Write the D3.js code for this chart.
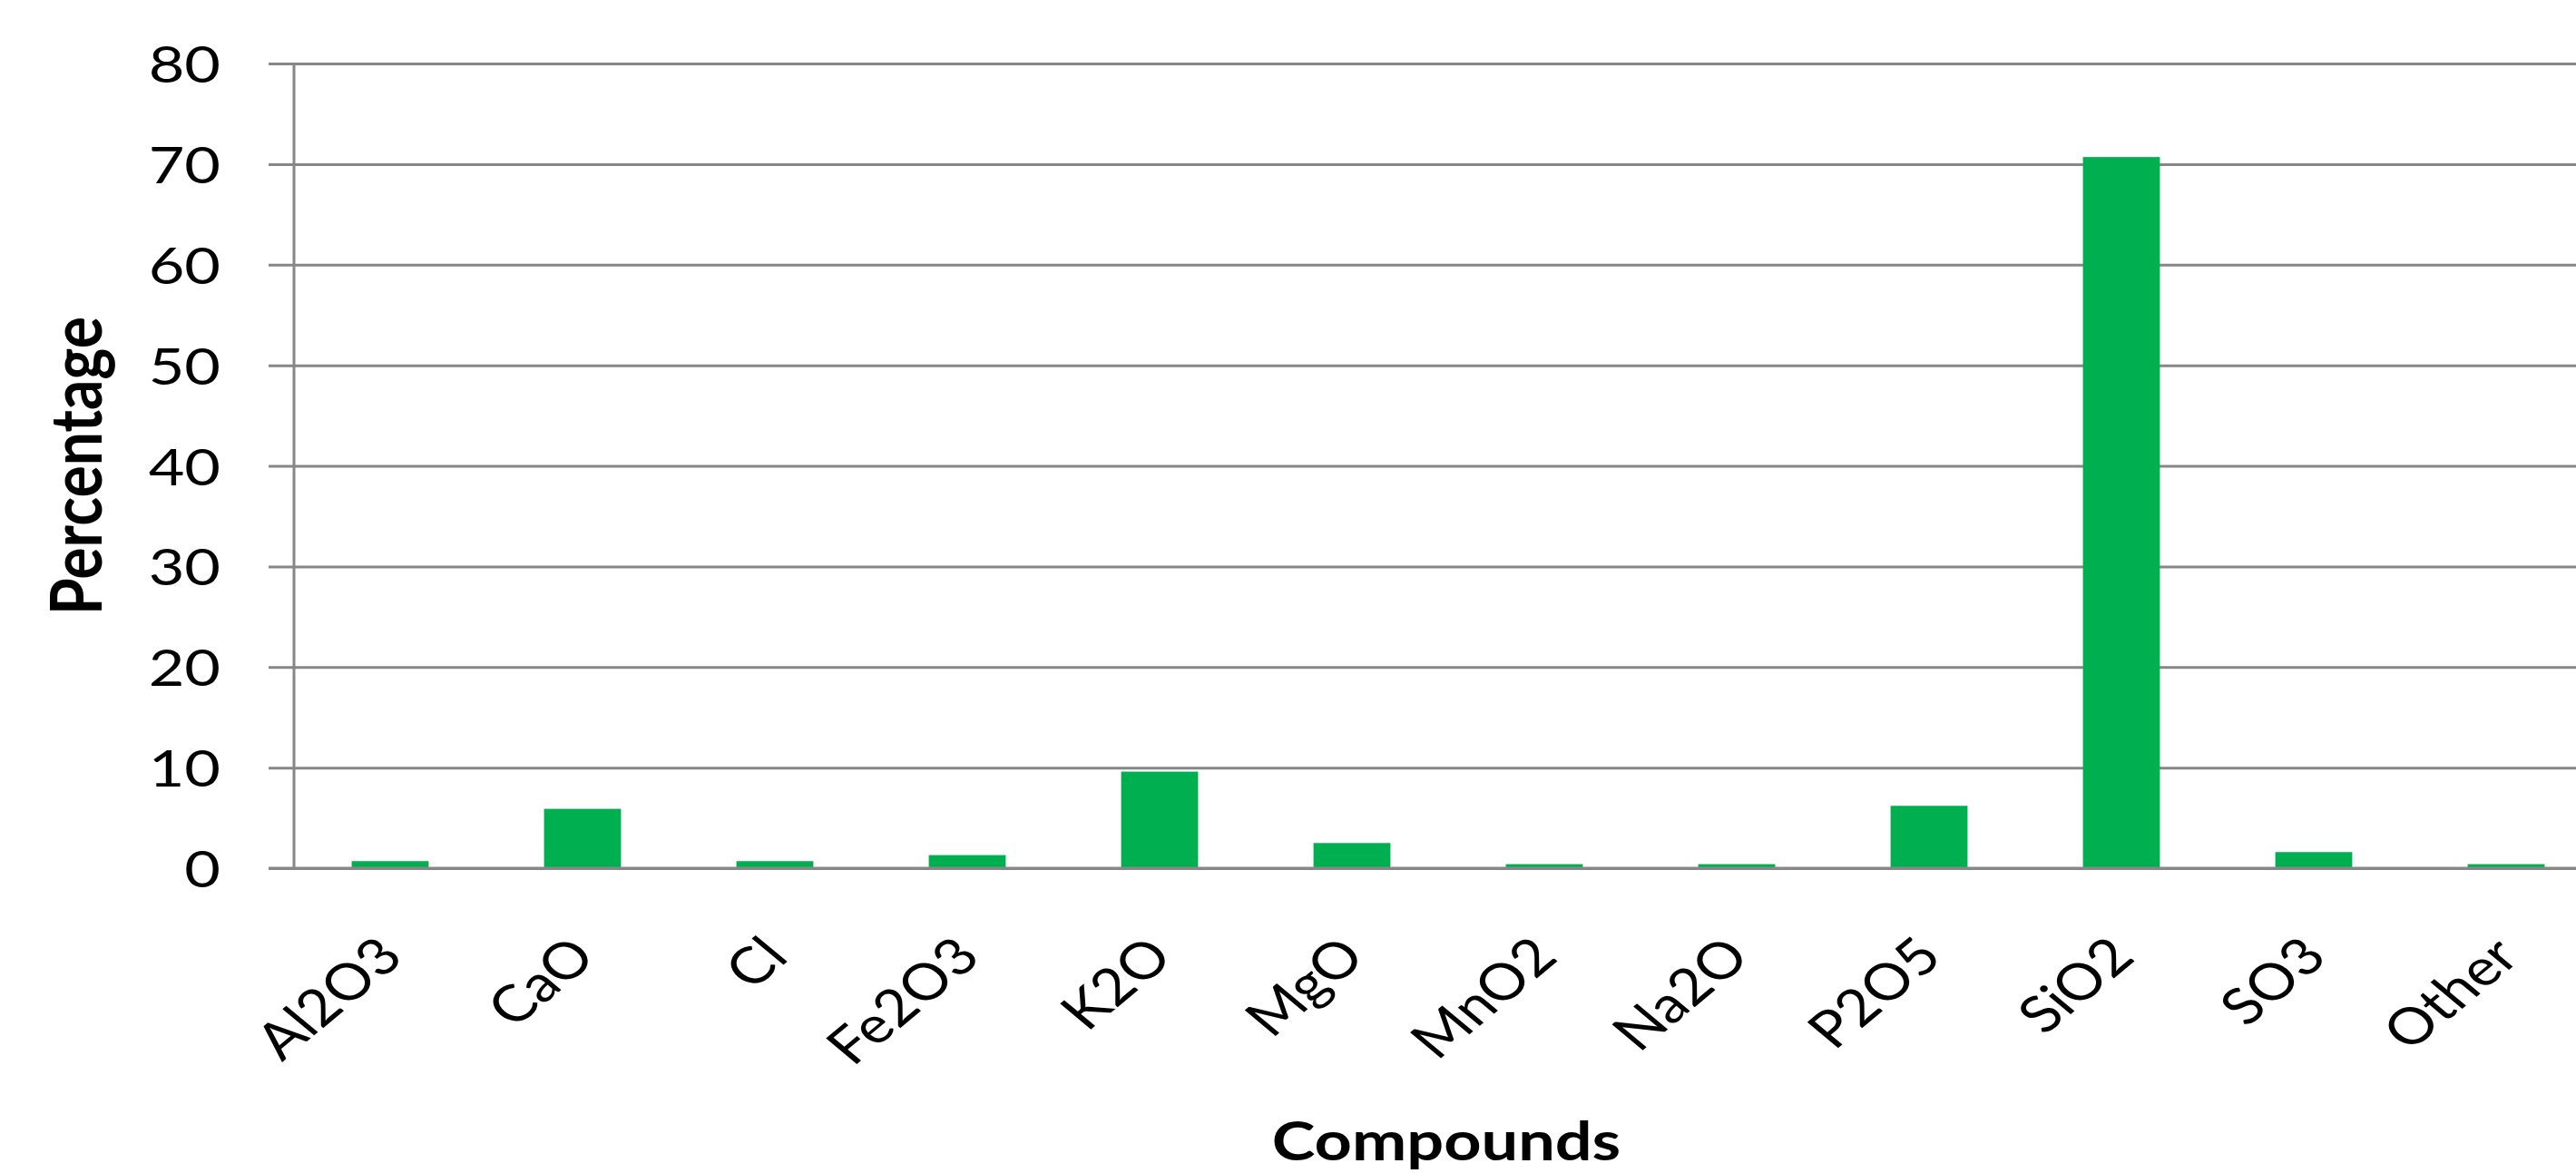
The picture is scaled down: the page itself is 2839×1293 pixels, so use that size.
<!DOCTYPE html>
<html>
<head>
<meta charset="utf-8">
<script src="https://cdn.jsdelivr.net/npm/d3@7"></script>
<style>
  html, body { margin: 0; padding: 0; background: #ffffff; }
  svg { display: block; }
</style>
</head>
<body>
<svg id="chart" width="2839" height="1293"></svg>
<script>
const categories = ["Al2O3", "CaO", "Cl", "Fe2O3", "K2O", "MgO", "MnO2", "Na2O", "P2O5", "SiO2", "SO3", "Other"];
const values = [0.7, 5.9, 0.7, 1.3, 9.6, 2.5, 0.4, 0.4, 6.2, 70.7, 1.6, 0.4];
const yTicks = [0, 10, 20, 30, 40, 50, 60, 70, 80];
const yTitle = "Percentage";
const xTitle = "Compounds";

const W = 2839, H = 1293;
const SX = 1.2;           // horizontal stretch of the original picture
const FONT = "Lato, 'Open Sans', 'DejaVu Sans', sans-serif";
const gridColor = "#878787";
const barColor = "#00B050";

const svg = d3.select("#chart");

const x = d3.scaleBand()
  .domain(categories)
  .range([324, 2868])
  .paddingInner(0.6)
  .paddingOuter(0.3);

const y = d3.scaleLinear()
  .domain([0, 80])
  .range([957, 70]);

// gridlines + y axis
const yAxis = d3.axisLeft(y)
  .tickValues(yTicks)
  .tickSize(28)
  .tickFormat(d3.format("d"));

const gy = svg.append("g")
  .attr("transform", `translate(${x.range()[0]},0)`)
  .call(yAxis);
gy.select(".domain").remove();
gy.selectAll(".tick line")
  .attr("stroke", gridColor)
  .attr("stroke-width", 3)
  .attr("x1", -28)
  .attr("x2", W - x.range()[0] + 50);
gy.selectAll(".tick text")
  .attr("font-family", FONT)
  .attr("font-size", 57)
  .attr("fill", "#000")
  .attr("text-anchor", "end")
  .attr("x", -81 / SX)
  .attr("dy", "0.36em")
  .attr("transform", `scale(${SX},1)`);

// bars
svg.append("g")
  .selectAll("rect")
  .data(values)
  .join("rect")
  .attr("x", (d, i) => x(categories[i]))
  .attr("width", x.bandwidth())
  .attr("y", d => y(d))
  .attr("height", d => y(0) - y(d))
  .attr("fill", barColor);

// vertical axis line
svg.append("line")
  .attr("x1", x.range()[0]).attr("x2", x.range()[0])
  .attr("y1", y(80)).attr("y2", y(0))
  .attr("stroke", gridColor)
  .attr("stroke-width", 3);

// baseline (drawn over bars)
svg.append("line")
  .attr("x1", x.range()[0] - 28).attr("x2", W + 50)
  .attr("y1", y(0)).attr("y2", y(0))
  .attr("stroke", gridColor)
  .attr("stroke-width", 3);

// x axis labels
const xAxis = d3.axisBottom(x).tickSize(0).tickPadding(0);
const gx = svg.append("g")
  .attr("transform", `translate(0,${y(0)})`)
  .call(xAxis);
gx.select(".domain").remove();
gx.selectAll(".tick text")
  .attr("font-family", FONT)
  .attr("font-size", 56)
  .attr("fill", "#000")
  .attr("text-anchor", "end")
  .attr("x", 0)
  .attr("y", 0)
  .attr("dy", "0.36em")
  .attr("transform", `translate(0,86) scale(${SX},1) rotate(-45)`);

// axis titles
svg.append("text")
  .attr("transform", `translate(112,${(y(0) + y(80)) / 2}) scale(${SX},1) rotate(-90)`)
  .attr("text-anchor", "middle")
  .attr("font-family", FONT)
  .attr("font-weight", "bold")
  .attr("font-size", 66)
  .attr("fill", "#000")
  .text(yTitle);

svg.append("text")
  .attr("transform", `translate(${(x.range()[0] + x.range()[1]) / 2 - 2},1279) scale(${SX},1)`)
  .attr("text-anchor", "middle")
  .attr("font-family", FONT)
  .attr("font-weight", "bold")
  .attr("font-size", 60)
  .attr("fill", "#000")
  .text(xTitle);
</script>
</body>
</html>
